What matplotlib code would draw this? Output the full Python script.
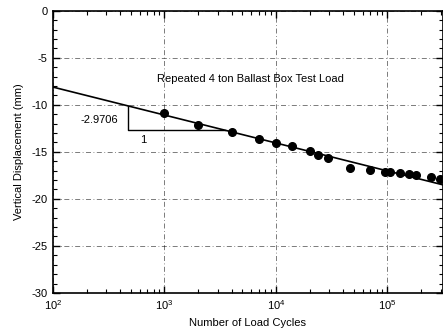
import matplotlib
matplotlib.use("Agg")
import matplotlib.pyplot as plt
import numpy as np

plt.rcParams['font.family'] = ['Liberation Sans', 'DejaVu Sans']
plt.rcParams['mathtext.fontset'] = 'custom'
plt.rcParams['mathtext.rm'] = 'Liberation Sans'
plt.rcParams['mathtext.it'] = 'Liberation Sans'

# measured settlement of the ballast box
cycles = [1000, 2000, 4000, 7000, 10000, 14000, 20000, 24000, 29000, 46000,
          70000, 95000, 105000, 130000, 155000, 180000, 245000, 295000]
disp = [-10.85, -12.13, -12.9, -13.6, -14.04, -14.4, -14.93, -15.29, -15.67, -16.72,
        -16.95, -17.13, -17.16, -17.27, -17.37, -17.42, -17.69, -17.94]

# fitted line  y = c + m*log10(N)
slope = -2.9706
intercept = -2.18
tri_n = 470
tri_bottom = -12.7

fig = plt.figure(figsize=(4.43, 3.34), dpi=100)
ax = fig.add_axes([0.1196, 0.123, 0.8804, 0.845])

nfit = np.logspace(2, np.log10(3.15e5), 200)
ax.plot(nfit, intercept + slope * np.log10(nfit), color='black', lw=1.2, zorder=3)
ax.plot(cycles, disp, 'o', color='black', ms=5.5, zorder=4)

# slope triangle
tri_top = intercept + slope * np.log10(tri_n)
n_right = 10 ** ((tri_bottom - intercept) / slope)
ax.plot([tri_n, tri_n, n_right], [tri_top, tri_bottom, tri_bottom], color='black', lw=1.0, zorder=3)
ax.text(260, -11.6, '%.4f' % slope, fontsize=8, ha='center', va='center')
ax.text(640, -13.75, '1', fontsize=8, ha='center', va='center')

ax.text(5900, -7.23, 'Repeated 4 ton Ballast Box Test Load', fontsize=8, ha='center', va='center')

ax.set_xscale('log')
ax.set_xlim(100, 3.15e5)
ax.set_ylim(-30, 0)
ax.set_yticks([0, -5, -10, -15, -20, -25, -30])
ax.set_yticks(np.arange(-30, 1, 1), minor=True)
ax.set_yticklabels(['0', '-5', '-10', '-15', '-20', '-25', '-30'])

ax.grid(True, which='major', color='black', lw=0.6, linestyle=(0, (6, 3, 1, 3)), alpha=0.6)
ax.tick_params(which='both', direction='in', top=True, right=True, labelsize=8, pad=4)
ax.tick_params(which='major', length=5, width=1)
ax.tick_params(which='minor', length=3, width=0.8)
for s in ax.spines.values():
    s.set_linewidth(1.2)

ax.set_xlabel('Number of Load Cycles', fontsize=8, labelpad=4)
ax.set_ylabel('Vertical Displacement (mm)', fontsize=8, labelpad=5)

fig.savefig('out.png', dpi=100)
